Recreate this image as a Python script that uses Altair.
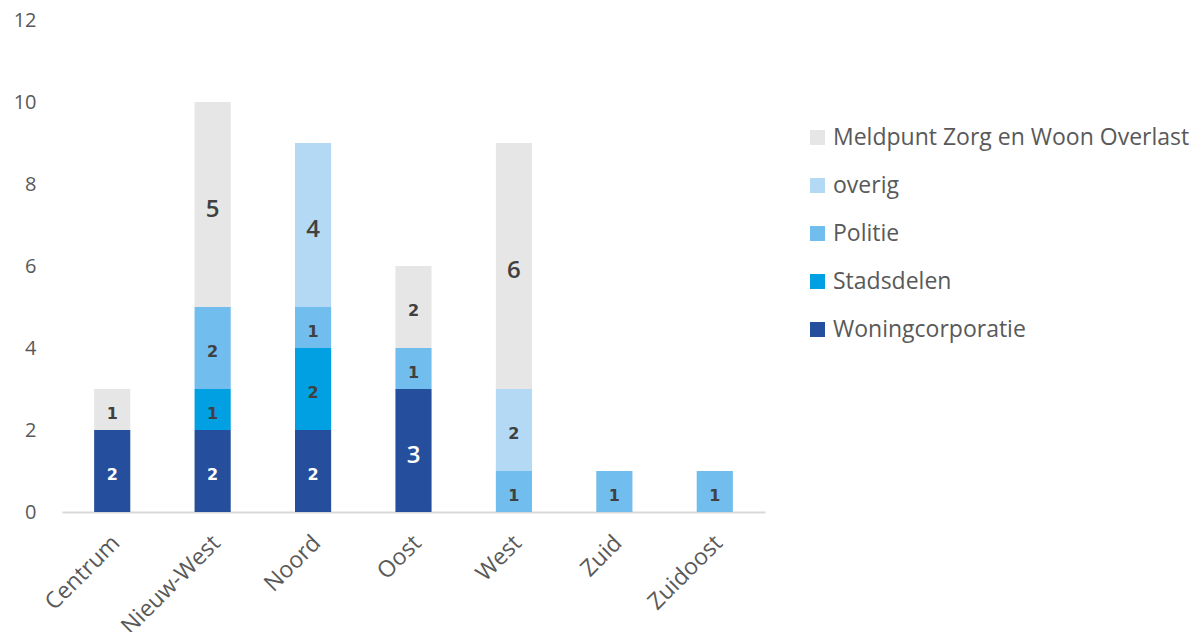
import altair as alt
import pandas as pd

districts = ["Centrum", "Nieuw-West", "Noord", "Oost", "West", "Zuid", "Zuidoost"]
series = ["Woningcorporatie", "Stadsdelen", "Politie", "overig", "Meldpunt Zorg en Woon Overlast"]
woningcorporatie = [2, 2, 2, 3, 0, 0, 0]
stadsdelen = [0, 1, 2, 0, 0, 0, 0]
politie = [0, 2, 1, 1, 1, 1, 1]
overig = [0, 0, 4, 0, 2, 0, 0]
meldpunt = [1, 5, 0, 2, 6, 0, 0]
colors = ["#254F9C", "#00A0E2", "#70BDEE", "#B3D9F4", "#E6E6E6"]

values = [woningcorporatie, stadsdelen, politie, overig, meldpunt]
rows = []
for rank, (s, vals) in enumerate(zip(series, values)):
    for d, v in zip(districts, vals):
        if v > 0:
            rows.append({"district": d, "series": s, "value": v, "rank": rank})
df = pd.DataFrame(rows)

legend_order = list(reversed(series))
legend_colors = list(reversed(colors))

base = alt.Chart(df).transform_stack(
    stack="value", as_=["y0", "y1"], groupby=["district"], sort=[{"field": "rank", "order": "ascending"}]
).transform_calculate(mid="(datum.y0 + datum.y1) / 2")

xenc = alt.X(
    "district:N",
    sort=districts,
    title=None,
    scale=alt.Scale(paddingInner=0.64, paddingOuter=0.32),
    axis=alt.Axis(
        labelAngle=-45,
        labelAlign="right",
        labelBaseline="middle",
        labelFont="Open Sans",
        labelFontSize=23,
        labelColor="#595959",
        labelPadding=27,
        labelOffset=4,
        ticks=False,
        domainColor="#D9D9D9",
        domainWidth=2,
        grid=False,
    ),
)

yscale = alt.Scale(domain=[0, 12])

bars = base.mark_bar().encode(
    x=xenc,
    y=alt.Y(
        "y0:Q",
        scale=yscale,
        title=None,
        axis=alt.Axis(
            values=[0, 2, 4, 6, 8, 10, 12],
            labelFont="Open Sans",
            labelFontSize=20,
            labelColor="#595959",
            labelPadding=26,
            ticks=False,
            domain=False,
            grid=False,
        ),
    ),
    y2="y1:Q",
    color=alt.Color(
        "series:N",
        scale=alt.Scale(domain=legend_order, range=legend_colors),
        legend=alt.Legend(
            title=None,
            orient="none",
            legendX=744,
            legendY=106,
            symbolType="square",
            symbolSize=225,
            symbolStrokeWidth=0,
            labelFont="Open Sans",
            labelFontSize=23,
            labelColor="#595959",
            labelLimit=500,
            rowPadding=24,
            labelOffset=4,
        ),
    ),
)

label_color = alt.condition("datum.series == 'Woningcorporatie'", alt.value("white"), alt.value("#404040"))

small = base.transform_filter("datum.value < 3").mark_text(
    font="DejaVu Sans", fontWeight="bold", fontSize=16, baseline="middle", dy=4
).encode(
    x=alt.X("district:N", sort=districts),
    y=alt.Y("mid:Q", scale=yscale),
    text="value:Q",
    color=label_color,
)

big = base.transform_filter("datum.value >= 3").mark_text(
    font="Open Sans", fontSize=24, fontWeight=600, baseline="middle", dy=5
).encode(
    x=alt.X("district:N", sort=districts),
    y=alt.Y("mid:Q", scale=yscale),
    text="value:Q",
    color=label_color,
)

chart = alt.layer(bars, small, big).properties(
    width=703,
    height=492,
    autosize=alt.AutoSizeParams(type="none"),
    padding={"left": 54, "top": 12, "right": 429, "bottom": 120},
).configure_view(stroke=None)

chart.save("out.html", embed_options={"renderer": "svg", "actions": False})
